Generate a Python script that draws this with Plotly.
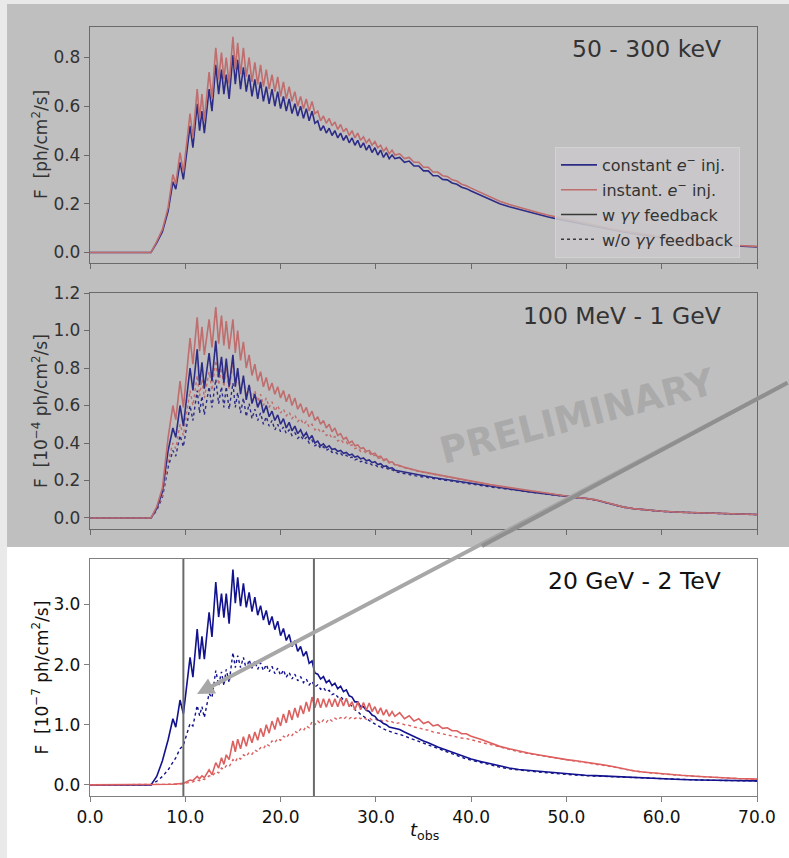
import plotly.graph_objects as go

# ---------------- data ----------------
T = [
    0.0, 6.4, 7.0, 7.6, 8.2, 8.7, 9.0, 9.45, 9.8, 10.5,
    10.8, 11.25, 11.5, 11.75, 12.0, 12.5, 12.8, 13.2, 13.5, 13.8,
    14.05, 14.3, 14.6, 15.0, 15.25, 15.5, 15.8, 16.1, 16.4, 16.7,
    17.0, 17.3, 17.6, 17.9, 18.2, 18.5, 18.8, 19.1, 19.4, 19.7,
    20.0, 20.3, 20.6, 20.9, 21.2, 21.5, 21.8, 22.1, 22.4, 22.7,
    23.0, 23.3, 23.6, 23.9, 24.2, 24.5, 24.8, 25.1, 25.4, 25.7,
    26.0, 26.3, 26.6, 26.9, 27.2, 27.5, 27.8, 28.1, 28.4, 28.7,
    29.0, 29.3, 29.6, 29.9, 30.2, 30.5, 30.8, 31.1, 31.4, 31.7,
    32.0, 32.5, 33.0, 33.5, 34.0, 34.5, 35.0, 35.5, 36.0, 36.5,
    37.0, 37.5, 38.0, 38.5, 39.0, 39.5, 40.0, 41.0, 42.0, 43.0,
    44.0, 45.0, 46.0, 47.0, 48.0, 49.0, 50.0, 51.0, 52.0, 53.0,
    54.0, 55.0, 56.0, 57.0, 58.0, 59.0, 60.0, 62.0, 64.0, 66.0,
    68.0, 70.0]

# Panel 1: 50 - 300 keV  [ph/cm^2/s]
kev_const = [
    0, 0, 0.04, 0.085, 0.17, 0.29, 0.26, 0.37, 0.30, 0.52,
    0.43, 0.61, 0.50, 0.58, 0.49, 0.67, 0.58, 0.77, 0.65, 0.75,
    0.65, 0.73, 0.63, 0.81, 0.69, 0.79, 0.67, 0.76, 0.66, 0.73,
    0.64, 0.71, 0.63, 0.70, 0.62, 0.68, 0.61, 0.67, 0.60, 0.66,
    0.59, 0.64, 0.58, 0.63, 0.57, 0.61, 0.56, 0.60, 0.55, 0.59,
    0.54, 0.58, 0.53, 0.54, 0.50, 0.52, 0.49, 0.51, 0.48, 0.50,
    0.47, 0.49, 0.46, 0.48, 0.45, 0.47, 0.44, 0.46, 0.43, 0.45,
    0.42, 0.44, 0.41, 0.43, 0.40, 0.42, 0.39, 0.41, 0.385, 0.40,
    0.385, 0.39, 0.37, 0.375, 0.355, 0.355, 0.335, 0.335, 0.315, 0.315,
    0.30, 0.298, 0.285, 0.28, 0.268, 0.262, 0.252, 0.235, 0.217, 0.20,
    0.188, 0.177, 0.167, 0.157, 0.147, 0.138, 0.13, 0.122, 0.114, 0.106,
    0.098, 0.091, 0.084, 0.078, 0.072, 0.066, 0.06, 0.05, 0.04, 0.032,
    0.027, 0.023]
kev_instant = [
    0, 0, 0.045, 0.095, 0.185, 0.32, 0.28, 0.41, 0.33, 0.57,
    0.47, 0.67, 0.55, 0.65, 0.54, 0.74, 0.63, 0.84, 0.71, 0.82,
    0.71, 0.80, 0.69, 0.885, 0.75, 0.86, 0.73, 0.84, 0.72, 0.80,
    0.70, 0.78, 0.69, 0.77, 0.68, 0.75, 0.67, 0.73, 0.66, 0.72,
    0.64, 0.70, 0.63, 0.68, 0.62, 0.66, 0.60, 0.64, 0.59, 0.63,
    0.58, 0.62, 0.57, 0.58, 0.54, 0.56, 0.53, 0.55, 0.52, 0.535,
    0.505, 0.525, 0.495, 0.51, 0.48, 0.50, 0.47, 0.49, 0.46, 0.475,
    0.45, 0.465, 0.44, 0.455, 0.43, 0.44, 0.415, 0.43, 0.405, 0.42,
    0.40, 0.405, 0.385, 0.39, 0.37, 0.37, 0.35, 0.35, 0.33, 0.33,
    0.315, 0.312, 0.298, 0.293, 0.28, 0.274, 0.264, 0.246, 0.227, 0.21,
    0.197, 0.185, 0.174, 0.164, 0.154, 0.145, 0.136, 0.127, 0.119, 0.111,
    0.103, 0.095, 0.088, 0.081, 0.075, 0.069, 0.063, 0.052, 0.042, 0.034,
    0.029, 0.025]

# Panel 2: 100 MeV - 1 GeV  [1e-4 ph/cm^2/s]
mev_const = [
    0, 0, 0.05, 0.14, 0.36, 0.48, 0.43, 0.60, 0.49, 0.80,
    0.68, 0.90, 0.71, 0.83, 0.69, 0.88, 0.73, 0.945, 0.75, 0.86,
    0.72, 0.85, 0.70, 0.87, 0.70, 0.80, 0.66, 0.76, 0.63, 0.71,
    0.61, 0.66, 0.59, 0.63, 0.56, 0.60, 0.54, 0.57, 0.52, 0.55,
    0.50, 0.53, 0.48, 0.51, 0.465, 0.49, 0.45, 0.47, 0.435, 0.455,
    0.42, 0.44, 0.40, 0.41, 0.385, 0.395, 0.375, 0.385, 0.365, 0.37,
    0.355, 0.36, 0.345, 0.35, 0.335, 0.34, 0.325, 0.33, 0.315, 0.32,
    0.305, 0.31, 0.295, 0.30, 0.285, 0.29, 0.275, 0.278, 0.265, 0.268,
    0.255, 0.25, 0.243, 0.238, 0.232, 0.228, 0.224, 0.22, 0.216, 0.212,
    0.208, 0.204, 0.20, 0.196, 0.192, 0.188, 0.185, 0.178, 0.17, 0.162,
    0.155, 0.148, 0.14, 0.134, 0.127, 0.121, 0.115, 0.11, 0.105, 0.097,
    0.084, 0.07, 0.058, 0.05, 0.044, 0.04, 0.036, 0.031, 0.027, 0.024,
    0.021, 0.019]
mev_instant = [
    0, 0, 0.06, 0.16, 0.43, 0.60, 0.525, 0.73, 0.59, 0.96,
    0.82, 1.07, 0.89, 1.02, 0.87, 1.06, 0.91, 1.125, 0.93, 1.08,
    0.92, 1.05, 0.90, 1.06, 0.88, 1.00, 0.84, 0.94, 0.80, 0.87,
    0.76, 0.82, 0.73, 0.78, 0.70, 0.75, 0.68, 0.72, 0.66, 0.70,
    0.64, 0.68, 0.62, 0.66, 0.60, 0.64, 0.58, 0.61, 0.56, 0.59,
    0.54, 0.57, 0.52, 0.54, 0.50, 0.52, 0.48, 0.50, 0.46, 0.48,
    0.44, 0.45, 0.42, 0.43, 0.40, 0.41, 0.385, 0.39, 0.37, 0.375,
    0.355, 0.36, 0.34, 0.345, 0.325, 0.33, 0.31, 0.315, 0.297, 0.30,
    0.285, 0.28, 0.27, 0.265, 0.257, 0.25, 0.245, 0.24, 0.235, 0.23,
    0.225, 0.22, 0.215, 0.21, 0.205, 0.20, 0.196, 0.187, 0.178, 0.17,
    0.162, 0.154, 0.145, 0.138, 0.13, 0.123, 0.117, 0.111, 0.106, 0.098,
    0.085, 0.07, 0.058, 0.05, 0.044, 0.04, 0.036, 0.031, 0.027, 0.024,
    0.021, 0.019]
mev_const_nofb = [
    0, 0, 0.04, 0.11, 0.27, 0.36, 0.33, 0.44, 0.38, 0.60,
    0.52, 0.68, 0.56, 0.65, 0.55, 0.70, 0.59, 0.74, 0.61, 0.70,
    0.59, 0.70, 0.58, 0.72, 0.59, 0.67, 0.56, 0.64, 0.54, 0.61,
    0.53, 0.58, 0.52, 0.56, 0.50, 0.54, 0.49, 0.52, 0.47, 0.50,
    0.46, 0.485, 0.45, 0.47, 0.44, 0.455, 0.425, 0.44, 0.415, 0.43,
    0.40, 0.415, 0.385, 0.395, 0.37, 0.38, 0.36, 0.37, 0.35, 0.355,
    0.34, 0.345, 0.33, 0.335, 0.32, 0.325, 0.31, 0.315, 0.30, 0.305,
    0.292, 0.295, 0.283, 0.285, 0.273, 0.276, 0.265, 0.267, 0.256, 0.258,
    0.247, 0.243, 0.236, 0.232, 0.226, 0.222, 0.218, 0.214, 0.21, 0.206,
    0.202, 0.198, 0.195, 0.191, 0.187, 0.184, 0.181, 0.174, 0.166, 0.159,
    0.152, 0.145, 0.138, 0.132, 0.125, 0.119, 0.114, 0.109, 0.104, 0.096,
    0.083, 0.069, 0.057, 0.049, 0.043, 0.039, 0.035, 0.030, 0.026, 0.023,
    0.02, 0.018]
mev_instant_nofb = [
    0, 0, 0.045, 0.12, 0.30, 0.40, 0.37, 0.50, 0.44, 0.68,
    0.60, 0.76, 0.65, 0.74, 0.64, 0.78, 0.68, 0.84, 0.71, 0.80,
    0.70, 0.80, 0.69, 0.82, 0.70, 0.77, 0.67, 0.74, 0.65, 0.71,
    0.63, 0.68, 0.62, 0.66, 0.60, 0.64, 0.59, 0.62, 0.57, 0.60,
    0.56, 0.58, 0.545, 0.565, 0.53, 0.55, 0.515, 0.53, 0.50, 0.515,
    0.485, 0.50, 0.47, 0.48, 0.455, 0.465, 0.44, 0.45, 0.425, 0.435,
    0.41, 0.42, 0.40, 0.405, 0.385, 0.39, 0.37, 0.375, 0.355, 0.36,
    0.345, 0.348, 0.33, 0.335, 0.318, 0.32, 0.305, 0.308, 0.293, 0.295,
    0.283, 0.277, 0.268, 0.262, 0.255, 0.248, 0.243, 0.238, 0.233, 0.228,
    0.223, 0.218, 0.213, 0.208, 0.203, 0.198, 0.194, 0.185, 0.176, 0.168,
    0.16, 0.152, 0.144, 0.137, 0.129, 0.122, 0.116, 0.11, 0.105, 0.097,
    0.084, 0.07, 0.058, 0.05, 0.044, 0.04, 0.036, 0.031, 0.027, 0.024,
    0.021, 0.019]

# Panel 3: 20 GeV - 2 TeV  [1e-7 ph/cm^2/s]
gev_const = [
    0, 0, 0.14, 0.40, 0.75, 1.10, 0.96, 1.41, 1.18, 2.12,
    1.79, 2.59, 2.09, 2.47, 2.09, 2.87, 2.46, 3.37, 2.79, 3.18,
    2.78, 3.18, 2.68, 3.58, 3.02, 3.45, 2.97, 3.35, 2.95, 3.20,
    2.88, 3.12, 2.82, 2.98, 2.74, 2.90, 2.66, 2.80, 2.58, 2.72,
    2.48, 2.60, 2.40, 2.50, 2.30, 2.40, 2.22, 2.30, 2.14, 2.22,
    2.02, 2.06, 1.86, 1.84, 1.76, 1.80, 1.70, 1.74, 1.65, 1.69,
    1.60, 1.64, 1.55, 1.58, 1.48, 1.46, 1.38, 1.38, 1.30, 1.30,
    1.24, 1.22, 1.16, 1.14, 1.08, 1.06, 1.02, 1.00, 0.96, 0.95,
    0.94, 0.92, 0.88, 0.84, 0.80, 0.76, 0.73, 0.70, 0.66, 0.63,
    0.60, 0.57, 0.54, 0.51, 0.48, 0.455, 0.43, 0.39, 0.35, 0.31,
    0.28, 0.255, 0.24, 0.225, 0.21, 0.195, 0.18, 0.17, 0.16, 0.153,
    0.145, 0.137, 0.13, 0.122, 0.115, 0.108, 0.10, 0.09, 0.082, 0.076,
    0.071, 0.067]
gev_instant = [
    0, 0, 0, 0.005, 0.01, 0.01, 0.015, 0.02, 0.025, 0.08,
    0.07, 0.14, 0.10, 0.15, 0.12, 0.25, 0.17, 0.37, 0.28, 0.45,
    0.34, 0.50, 0.42, 0.73, 0.55, 0.76, 0.60, 0.80, 0.64, 0.84,
    0.70, 0.88, 0.74, 0.94, 0.80, 1.00, 0.86, 1.06, 0.92, 1.12,
    0.98, 1.18, 1.03, 1.24, 1.08, 1.28, 1.12, 1.32, 1.18, 1.38,
    1.22, 1.46, 1.28, 1.44, 1.28, 1.43, 1.29, 1.43, 1.30, 1.43,
    1.30, 1.44, 1.31, 1.44, 1.30, 1.38, 1.25, 1.38, 1.25, 1.37,
    1.24, 1.36, 1.22, 1.30, 1.18, 1.28, 1.16, 1.25, 1.14, 1.22,
    1.14, 1.20, 1.10, 1.15, 1.06, 1.10, 1.02, 1.05, 0.98, 1.00,
    0.94, 0.95, 0.90, 0.90, 0.85, 0.85, 0.81, 0.76, 0.70, 0.64,
    0.60, 0.56, 0.53, 0.50, 0.47, 0.44, 0.42, 0.40, 0.38, 0.355,
    0.33, 0.30, 0.265, 0.235, 0.215, 0.20, 0.185, 0.16, 0.14, 0.12,
    0.105, 0.095]
gev_const_nofb = [
    0, 0, 0.06, 0.14, 0.25, 0.38, 0.45, 0.60, 0.66, 1.02,
    0.98, 1.32, 1.15, 1.30, 1.12, 1.52, 1.45, 1.90, 1.65, 1.88,
    1.65, 1.92, 1.70, 2.20, 1.95, 2.15, 1.95, 2.12, 1.92, 2.08,
    1.94, 2.06, 1.92, 2.03, 1.90, 2.00, 1.88, 1.97, 1.85, 1.94,
    1.82, 1.91, 1.79, 1.87, 1.76, 1.84, 1.73, 1.80, 1.70, 1.76,
    1.66, 1.72, 1.63, 1.66, 1.59, 1.62, 1.55, 1.57, 1.50, 1.52,
    1.46, 1.47, 1.41, 1.41, 1.35, 1.30, 1.25, 1.22, 1.17, 1.14,
    1.10, 1.07, 1.04, 1.01, 0.98, 0.96, 0.93, 0.91, 0.89, 0.87,
    0.86, 0.84, 0.81, 0.78, 0.75, 0.72, 0.69, 0.66, 0.63, 0.60,
    0.57, 0.54, 0.51, 0.48, 0.46, 0.43, 0.41, 0.37, 0.33, 0.295,
    0.265, 0.245, 0.23, 0.215, 0.20, 0.185, 0.172, 0.162, 0.153, 0.146,
    0.138, 0.131, 0.124, 0.117, 0.11, 0.103, 0.097, 0.088, 0.08, 0.074,
    0.069, 0.065]
gev_instant_nofb = [
    0, 0, 0, 0, 0.005, 0.005, 0.01, 0.015, 0.02, 0.04,
    0.05, 0.08, 0.07, 0.10, 0.09, 0.15, 0.14, 0.22, 0.20, 0.28,
    0.26, 0.32, 0.30, 0.42, 0.38, 0.46, 0.43, 0.50, 0.47, 0.54,
    0.51, 0.58, 0.55, 0.62, 0.60, 0.68, 0.65, 0.73, 0.70, 0.77,
    0.74, 0.81, 0.78, 0.85, 0.82, 0.89, 0.86, 0.93, 0.90, 0.98,
    0.95, 1.05, 1.00, 1.06, 1.02, 1.08, 1.04, 1.10, 1.06, 1.11,
    1.08, 1.12, 1.09, 1.13, 1.10, 1.13, 1.10, 1.13, 1.10, 1.12,
    1.09, 1.11, 1.08, 1.10, 1.07, 1.08, 1.05, 1.07, 1.04, 1.05,
    1.02, 1.03, 1.00, 0.99, 0.96, 0.95, 0.92, 0.91, 0.88, 0.87,
    0.85, 0.83, 0.81, 0.79, 0.78, 0.77, 0.75, 0.71, 0.67, 0.62,
    0.58, 0.55, 0.52, 0.495, 0.465, 0.44, 0.415, 0.395, 0.375, 0.35,
    0.325, 0.295, 0.262, 0.232, 0.212, 0.198, 0.183, 0.158, 0.138, 0.118,
    0.103, 0.093]

window_edges = [9.8, 23.5]
x_ticks = [0, 10, 20, 30, 40, 50, 60, 70]
panel_labels = ["50 - 300 keV", "100 MeV - 1 GeV", "20 GeV - 2 TeV"]
y_titles = ["F&nbsp; [ph/cm<sup>2</sup>/s]",
            "F&nbsp; [10<sup>\u22124</sup> ph/cm<sup>2</sup>/s]",
            "F&nbsp; [10<sup>\u22127</sup> ph/cm<sup>2</sup>/s]"]

for s in [kev_const, kev_instant, mev_const, mev_instant, mev_const_nofb,
          mev_instant_nofb, gev_const, gev_instant, gev_const_nofb, gev_instant_nofb]:
    assert len(s) == len(T), len(s)

# ---------------- styling ----------------
W, H = 789, 858
FONT = "DejaVu Sans"
BLUE_TOP, RED_TOP = "#2c2c86", "#bf6d6d"
BLUE_BOT, RED_BOT = "#12128e", "#dc6060"
TXT_TOP, TXT_BOT = "#333333", "#111111"


def px(x):
    return x / W


def py(y):
    return 1 - y / H


fig = go.Figure()


def line(xa, ya, y, color, dash="solid", name=None, show=False, width=1.6):
    fig.add_trace(go.Scatter(
        x=T, y=y, mode="lines", xaxis=xa, yaxis=ya, name=name or "",
        showlegend=show, legendgroup=name or None,
        line=dict(color=color, width=width if dash == "solid" else 1.4, dash=dash),
        hoverinfo="skip"))


# panel 1 (legend entries come from here)
line("x", "y", kev_const, BLUE_TOP, name="constant <i>e</i><sup>\u2212</sup> inj.", show=True)
line("x", "y", kev_instant, RED_TOP, name="instant. <i>e</i><sup>\u2212</sup> inj.", show=True)
fig.add_trace(go.Scatter(x=[None], y=[None], mode="lines", xaxis="x", yaxis="y",
                         name="w <i>\u03b3\u03b3</i> feedback", legendgroup="w",
                         line=dict(color="#3a3a3a", width=1.6)))
fig.add_trace(go.Scatter(x=[None], y=[None], mode="lines", xaxis="x", yaxis="y",
                         name="w/o <i>\u03b3\u03b3</i> feedback", legendgroup="wo",
                         line=dict(color="#3a3a3a", width=1.4, dash="dot")))
# panel 2
line("x2", "y2", mev_const_nofb, BLUE_TOP, "dot")
line("x2", "y2", mev_instant_nofb, RED_TOP, "dot")
line("x2", "y2", mev_const, BLUE_TOP)
line("x2", "y2", mev_instant, RED_TOP)
# panel 3
line("x3", "y3", gev_const_nofb, BLUE_BOT, "dot")
line("x3", "y3", gev_instant_nofb, RED_BOT, "dot")
line("x3", "y3", gev_const, BLUE_BOT)
line("x3", "y3", gev_instant, RED_BOT)

# geometry (pixels)
x_dom = [px(90), px(757)]
panels = [(27, 263), (293, 529), (559, 796)]
y_ranges = [[-0.043, 0.925], [-0.0587, 1.2], [-0.185, 3.755]]
y_ticks = [[0, 0.2, 0.4, 0.6, 0.8], [0, 0.2, 0.4, 0.6, 0.8, 1.0, 1.2], [0, 1, 2, 3]]

layout = dict(
    width=W, height=H, margin=dict(l=0, r=0, t=0, b=0),
    paper_bgcolor="#e9e9e9", plot_bgcolor="rgba(0,0,0,0)",
    font=dict(family=FONT, size=17, color=TXT_TOP),
    showlegend=True,
    legend=dict(x=px(555), y=py(147), xanchor="left", yanchor="top",
                bgcolor="rgba(201,200,201,0.88)", bordercolor="#d2d2d2", borderwidth=1,
                font=dict(family=FONT, size=16, color=TXT_TOP),
                traceorder="grouped", tracegroupgap=1, itemwidth=36),
)

for i, (top, bot) in enumerate(panels):
    k = "" if i == 0 else str(i + 1)
    bottom = i == 2
    spine = "#808080" if bottom else "#6a6a6a"
    tcol = TXT_BOT if bottom else TXT_TOP
    layout["xaxis" + k] = dict(
        domain=x_dom, range=[0, 70], anchor="y" + k,
        tickvals=x_ticks, tickformat=".1f", showticklabels=bottom,
        ticks="outside", ticklen=5, tickwidth=1.2, tickcolor=spine,
        showline=True, linecolor=spine, linewidth=1.3, mirror=True,
        showgrid=False, zeroline=False, automargin=False,
        tickfont=dict(family=FONT, size=17, color=tcol))
    layout["yaxis" + k] = dict(
        domain=[py(bot), py(top)], range=y_ranges[i], anchor="x" + k,
        tickvals=y_ticks[i], tickformat=".1f",
        ticks="outside", ticklen=5, tickwidth=1.2, tickcolor=spine,
        showline=True, linecolor=spine, linewidth=1.3, mirror=True,
        showgrid=False, zeroline=False, automargin=False,
        tickfont=dict(family=FONT, size=17, color=tcol))

shapes = [
    dict(type="rect", xref="paper", yref="paper", x0=px(7), x1=1, y0=0, y1=py(4),
         fillcolor="#ffffff", line=dict(width=0), layer="below"),
    dict(type="rect", xref="paper", yref="paper", x0=px(7), x1=1, y0=py(547), y1=py(4),
         fillcolor="#c0bfc0", line=dict(width=0), layer="below"),
]
for t in window_edges:
    shapes.append(dict(type="line", xref="x3", yref="y3 domain", x0=t, x1=t, y0=0, y1=1,
                       line=dict(color="#6a6a6a", width=2), layer="above"))
layout["shapes"] = shapes

label_y = [49, 316, 581]
ann = []
for i, lab in enumerate(panel_labels):
    ann.append(dict(text=lab, xref="paper", yref="paper", x=px(723), y=py(label_y[i]),
                    xanchor="right", yanchor="middle", showarrow=False,
                    font=dict(family=FONT, size=23.5, color=TXT_BOT if i == 2 else TXT_TOP)))
for i, (top, bot) in enumerate(panels):
    ann.append(dict(text=y_titles[i], xref="paper", yref="paper", x=px(40), y=py((top + bot) / 2),
                    xanchor="center", yanchor="middle", textangle=-90, showarrow=False,
                    font=dict(family=FONT, size=17, color=TXT_BOT if i == 2 else TXT_TOP)))
ann.append(dict(text="<i>t</i><sub>obs</sub>", xref="paper", yref="paper", x=px(424), y=py(831),
                xanchor="center", yanchor="middle", showarrow=False,
                font=dict(family=FONT, size=18, color=TXT_BOT)))
ann.append(dict(text="<b>PRELIMINARY</b>", xref="paper", yref="paper", x=px(577), y=py(416),
                xanchor="center", yanchor="middle", textangle=-14.5, showarrow=False,
                font=dict(family=FONT, size=37, color="#aaaaaa")))
# arrow (tail beyond right edge, head in bottom panel)
ann.append(dict(text="", xref="paper", yref="paper", x=px(197), y=py(694),
                ax=603, ay=-312, showarrow=True, arrowhead=2, arrowsize=0.85,
                arrowwidth=4, arrowcolor="#a7a7a7", standoff=0))
ann.append(dict(text="", xref="paper", yref="paper", x=px(482), y=py(546),
                ax=318, ay=-164, showarrow=True, arrowhead=0,
                arrowwidth=4, arrowcolor="#8f8f8f", standoff=0))
layout["annotations"] = ann

fig.update_layout(**layout)
fig.write_html("out.html")
